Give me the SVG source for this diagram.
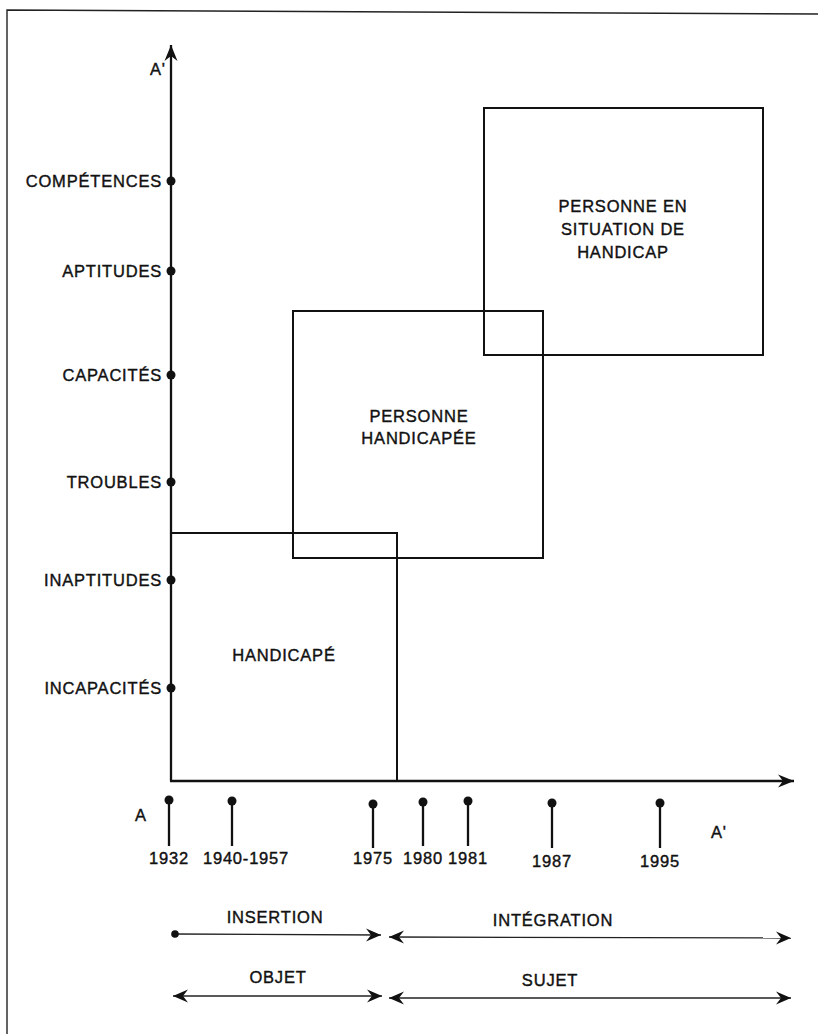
<svg xmlns="http://www.w3.org/2000/svg" width="818" height="1034" viewBox="0 0 818 1034">
<defs>
<style>
text{font-family:"Liberation Sans",Arial,sans-serif;font-size:16.5px;fill:#111;letter-spacing:0.8px;stroke:#111;stroke-width:0.4px}
.lab{text-anchor:end}
.c{text-anchor:middle}
.axis{stroke:#111;stroke-width:2.3;fill:none}
.box{stroke:#111;stroke-width:2;fill:none}
.thin{stroke:#222;stroke-width:1.3;fill:none}
.tick{stroke:#111;stroke-width:2.3}
.dot{fill:#111}
</style>
<marker id="ah" viewBox="-16 -7 17 14" refX="0" refY="0" markerWidth="17" markerHeight="14" markerUnits="userSpaceOnUse" orient="auto-start-reverse">
<path d="M0,0 L-16,-6.5 L-11,0 L-16,6.5 Z" fill="#111"/>
</marker>
<marker id="ahs" viewBox="-15 -7 16 14" refX="0" refY="0" markerWidth="16" markerHeight="14" markerUnits="userSpaceOnUse" orient="auto-start-reverse">
<path d="M0,0 L-15,-6.5 L-10,0 L-15,6.5 Z" fill="#111"/>
</marker>
</defs>
<rect width="818" height="1034" fill="#fff"/>
<g id="frame">
<path d="M7,1034 L7,10 L818,14" stroke="#222" stroke-width="1.4" fill="none"/>
</g>
<g id="connectors">
<path class="axis" d="M171,781 L171,45" marker-end="url(#ah)"/>
<path class="axis" d="M170,781 L794,781" marker-end="url(#ah)"/>
<path class="thin" d="M175,934 L381,935" marker-end="url(#ahs)"/>
<path class="thin" d="M389,937 L791,938" marker-start="url(#ahs)" marker-end="url(#ahs)"/>
<path class="thin" d="M173,996 L382,996" marker-start="url(#ahs)" marker-end="url(#ahs)"/>
<path class="thin" d="M389,998 L791,998" marker-start="url(#ahs)" marker-end="url(#ahs)"/>
<circle class="dot" cx="175" cy="934" r="3.8"/>
</g>
<g id="y-axis-labels">
<text x="150" y="75">A'</text>
<g id="competences"><circle class="dot" cx="171" cy="181" r="4.5"/><text class="lab" x="162" y="187">COMPÉTENCES</text></g>
<g id="aptitudes"><circle class="dot" cx="171" cy="271" r="4.5"/><text class="lab" x="162" y="277">APTITUDES</text></g>
<g id="capacites"><circle class="dot" cx="171" cy="375" r="4.5"/><text class="lab" x="162" y="381">CAPACITÉS</text></g>
<g id="troubles"><circle class="dot" cx="171" cy="482" r="4.5"/><text class="lab" x="162" y="488">TROUBLES</text></g>
<g id="inaptitudes"><circle class="dot" cx="171" cy="580" r="4.5"/><text class="lab" x="162" y="586">INAPTITUDES</text></g>
<g id="incapacites"><circle class="dot" cx="171" cy="688" r="4.5"/><text class="lab" x="162" y="694">INCAPACITÉS</text></g>
</g>
<g id="handicape">
<rect class="box" x="171" y="533" width="226" height="248"/>
<text class="c" x="284" y="661">HANDICAPÉ</text>
</g>
<g id="personne-handicapee">
<rect class="box" x="293" y="311" width="250" height="247"/>
<text class="c" x="419" y="422">PERSONNE</text>
<text class="c" x="419" y="444">HANDICAPÉE</text>
</g>
<g id="personne-situation">
<rect class="box" x="484" y="108" width="279" height="247"/>
<text class="c" x="623" y="212">PERSONNE EN</text>
<text class="c" x="623" y="235">SITUATION DE</text>
<text class="c" x="623" y="258">HANDICAP</text>
</g>
<g id="timeline">
<text x="135" y="821">A</text>
<text x="711" y="838">A'</text>
<g id="y1932"><line class="tick" x1="169" y1="800" x2="169" y2="846"/><circle class="dot" cx="169" cy="800" r="4.5"/><text class="c" x="169" y="864">1932</text></g>
<g id="y1940"><line class="tick" x1="232" y1="801" x2="232" y2="846"/><circle class="dot" cx="232" cy="801" r="4.5"/><text class="c" x="246" y="864">1940-1957</text></g>
<g id="y1975"><line class="tick" x1="373" y1="804" x2="373" y2="848"/><circle class="dot" cx="373" cy="804" r="4.5"/><text class="c" x="373" y="864">1975</text></g>
<g id="y1980"><line class="tick" x1="423" y1="802" x2="423" y2="846"/><circle class="dot" cx="423" cy="802" r="4.5"/><text class="c" x="423" y="864">1980</text></g>
<g id="y1981"><line class="tick" x1="468" y1="801" x2="468" y2="846"/><circle class="dot" cx="468" cy="801" r="4.5"/><text class="c" x="468" y="864">1981</text></g>
<g id="y1987"><line class="tick" x1="552" y1="803" x2="552" y2="848"/><circle class="dot" cx="552" cy="803" r="4.5"/><text class="c" x="552" y="867">1987</text></g>
<g id="y1995"><line class="tick" x1="660" y1="803" x2="660" y2="848"/><circle class="dot" cx="660" cy="803" r="4.5"/><text class="c" x="660" y="867">1995</text></g>
</g>
<g id="periods">
<text class="c" x="275" y="923">INSERTION</text>
<text class="c" x="553" y="926">INTÉGRATION</text>
<text class="c" x="278" y="983">OBJET</text>
<text class="c" x="550" y="986">SUJET</text>
</g>
</svg>
